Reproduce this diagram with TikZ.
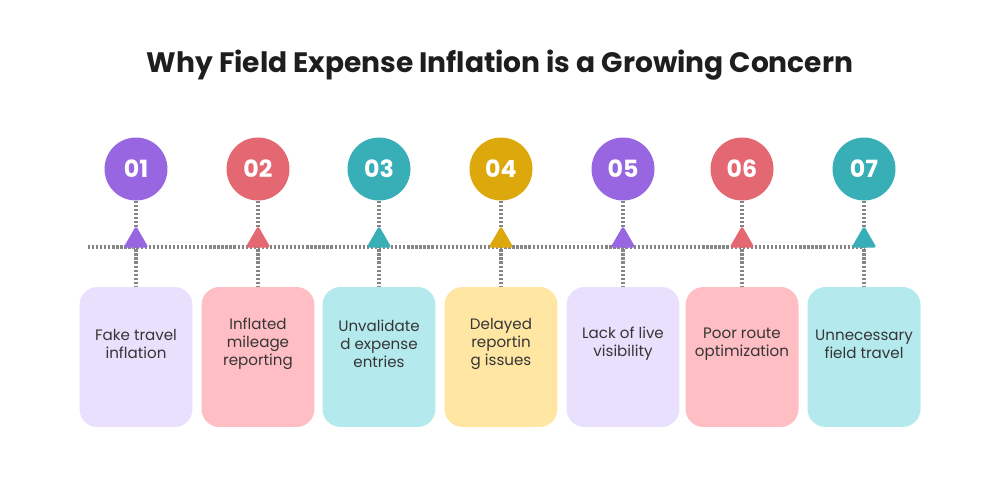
\documentclass[tikz,border=0pt]{standalone}
\usepackage{fontspec}
\setmainfont{Poppins}
\usepackage{xcolor}
\usepackage{tikz}
\usetikzlibrary{shapes,backgrounds,positioning}

\definecolor{cPurple}{HTML}{9766E0}
\definecolor{cRed}{HTML}{E46871}
\definecolor{cTeal}{HTML}{38AFB7}
\definecolor{cGold}{HTML}{DDA80B}
\definecolor{fPurple}{HTML}{E8E0FD}
\definecolor{fRed}{HTML}{FFBEC4}
\definecolor{fTeal}{HTML}{B4EAED}
\definecolor{fGold}{HTML}{FFE6A3}
\definecolor{dotgray}{HTML}{858585}
\definecolor{inkdark}{HTML}{1E1E1E}

\tikzset{
    numcircle/.style={circle,minimum size=1.26cm,inner sep=0pt,text=white,font=\fontsize{13.5}{15}\selectfont\bfseries},
    marker/.style={regular polygon,regular polygon sides=3,minimum size=0.58cm,inner sep=0pt,rounded corners=1.5pt,anchor=south},
    card/.style={rounded corners=0.36cm,minimum width=2.26cm,minimum height=2.8cm,inner sep=0pt},
    cardtext/.style={align=center,text=inkdark!90,font=\fontsize{8.6}{10.3}\selectfont},
    dotline/.style={dotgray,line width=1.9pt,dash pattern=on 1.3pt off 1.0pt}
}

\begin{document}
\begin{tikzpicture}[x=0.02cm,y=-0.02cm]
    % Canvas
    \useasboundingbox (0,0) rectangle (1000,500);

    % Title
    \node[text=inkdark,font=\fontsize{16}{19}\selectfont\bfseries] (title) at (500,65) {Why Field Expense Inflation is a Growing Concern};

    % Steps
    \foreach \i/\x/\col/\fil/\txt in {
        1/136/cPurple/fPurple/{Fake travel\\inflation},
        2/258/cRed/fRed/{Inflated\\mileage\\reporting},
        3/379/cTeal/fTeal/{Unvalidate\\d expense\\entries},
        4/501/cGold/fGold/{Delayed\\reportin\\g issues},
        5/623/cPurple/fPurple/{Lack of live\\visibility},
        6/742/cRed/fRed/{Poor route\\optimization},
        7/864/cTeal/fTeal/{Unnecessary\\field travel}}{
        \node[numcircle,fill=\col] (n\i) at (\x,169) {0\i};
        \node[marker,fill=\col] (t\i) at (\x,248) {};
        \node[card,fill=\fil] (b\i) at (\x,357) {};
        \node[cardtext] (l\i) at ([yshift=0.26cm]b\i.center) {\txt};
    }

    % Timeline
    \coordinate (start) at (88,247);
    \begin{scope}[on background layer]
        \fill[white] (0,0) rectangle (1000,500);
        \draw[dotline] (start) -- ([yshift=0.02cm]t7.south);
        \foreach \i in {1,...,7}{
            \draw[dotline] (n\i.south) -- (b\i.north);
        }
    \end{scope}
\end{tikzpicture}
\end{document}
